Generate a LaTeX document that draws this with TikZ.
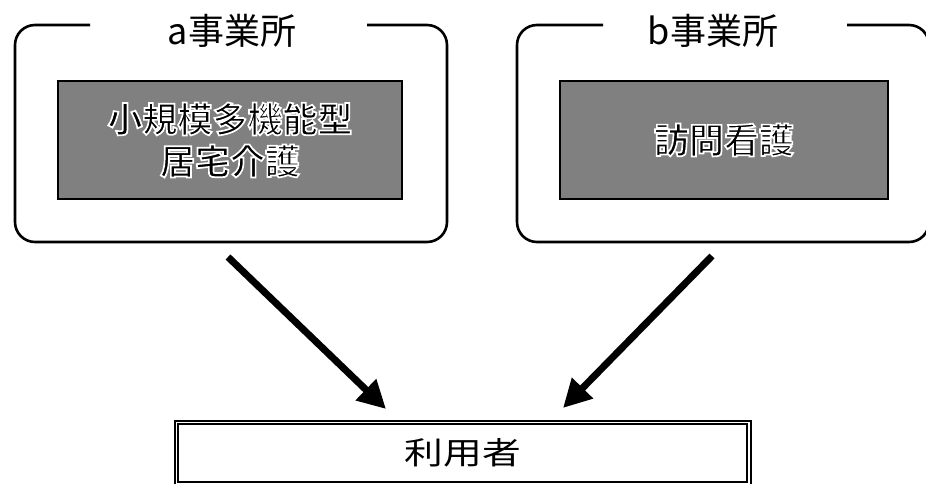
\documentclass[tikz,border=0pt]{standalone}
\usepackage{fontspec}
\newfontfamily\jp{Noto Sans CJK JP}
\newfontfamily\jpwide[FakeStretch=1.25]{Noto Sans CJK JP}
\newfontfamily\jpbold{Noto Sans CJK JP Bold}
\newcommand\halotext[1]{\special{pdf:code 2 Tr 1 1 1 RG 1.7 w}#1\special{pdf:code 0 Tr}}
\usetikzlibrary{arrows.meta}
\begin{document}
\begin{tikzpicture}[x=1pt,y=-1pt,
  frame/.style={line width=2.6pt,rounded corners=20pt},
  title/.style={font=\jp\fontsize{36}{40}\selectfont,inner sep=0pt},
  servicebox/.style={draw=black,line width=1.4pt,fill=black!50,minimum width=344pt,minimum height=118pt,
    align=center,font=\jpbold\fontsize{35}{44}\selectfont,text=black},
  userbox/.style={draw=black,line width=2pt,minimum width=576pt,minimum height=64pt,
    font=\jpwide\fontsize{31}{34}\selectfont},
  flow/.style={line width=7pt,-{Triangle[length=28pt,width=28pt]}}]
\useasboundingbox (0,0) rectangle (926,484);
% left office
\node[title] (ta) at (232,31) {a事業所};
\draw[frame] (90,25) -- (15,25) -- (15,242) -- (447,242) -- (447,25) -- (367,25);
\node[servicebox] (sa) at (230,140) {\halotext{小規模多機能型}\\[-2pt]\halotext{居宅介護}};
% right office
\node[title] (tb) at (713,31) {b事業所};
\draw[frame] (603,25) -- (517,25) -- (517,242) -- (929,242) -- (929,25) -- (847,25);
\node[servicebox,minimum width=328pt] (sb) at (724,140) {\halotext{訪問看護}};
% user
\node[userbox] (u) at (463,453) {利用者};
\draw[line width=1.8pt] ([shift={(4,4)}]u.north west) rectangle ([shift={(-5,-4)}]u.south east);
\coordinate (a1) at (228,257);
\coordinate (a2) at (386,409);
\coordinate (b1) at (712,256);
\coordinate (b2) at (563,408);
\draw[flow] (a1) -- (a2);
\draw[flow] (b1) -- (b2);
\end{tikzpicture}
\end{document}
